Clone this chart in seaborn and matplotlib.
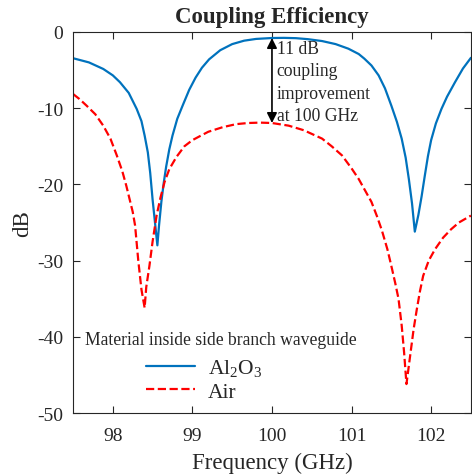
import numpy as np
import pandas as pd
import matplotlib
matplotlib.use('Agg')
import matplotlib.pyplot as plt
import seaborn as sns

# values (frequency in GHz, coupling in dB)
freq_al2o3 = [97.50, 97.70, 97.88, 98.00, 98.09, 98.20, 98.30, 98.36, 98.40, 98.44,
              98.47, 98.50, 98.53, 98.56, 98.58, 98.61, 98.64, 98.67, 98.71, 98.75,
              98.81, 98.88, 98.96, 99.04, 99.12, 99.21, 99.35, 99.50, 99.65, 99.80,
              100.00, 100.15, 100.30, 100.45, 100.63, 100.80, 100.96, 101.09, 101.16, 101.25,
              101.34, 101.42, 101.50, 101.57, 101.63, 101.68, 101.72, 101.76, 101.795, 101.84,
              101.88, 101.92, 101.96, 102.00, 102.06, 102.13, 102.20, 102.30, 102.40, 102.50]
db_al2o3 = [-3.45, -4.0, -4.86, -5.7, -6.6, -8.0, -10.1, -11.7, -13.6, -15.8,
            -18.5, -22.0, -25.0, -28.0, -25.5, -22.3, -19.8, -17.7, -15.4, -13.6,
            -11.4, -9.6, -7.6, -6.0, -4.7, -3.6, -2.4, -1.6, -1.15, -0.92,
            -0.8, -0.78, -0.82, -0.95, -1.2, -1.6, -2.2, -2.9, -3.5, -4.4,
            -5.7, -7.4, -9.67, -11.8, -14.0, -16.5, -19.3, -22.5, -26.2, -24.0,
            -21.6, -18.9, -16.3, -14.2, -12.0, -10.1, -8.5, -6.6, -4.8, -3.4]

freq_air = [97.50, 97.58, 97.67, 97.78, 97.88, 97.97, 98.05, 98.12, 98.17, 98.21,
            98.25, 98.28, 98.32, 98.36, 98.40, 98.42, 98.46, 98.50, 98.55, 98.60,
            98.65, 98.71, 98.80, 98.90, 99.00, 99.09, 99.20, 99.38, 99.55, 99.70,
            99.85, 100.00, 100.21, 100.40, 100.63, 100.75, 100.88, 101.00, 101.09, 101.17,
            101.25, 101.32, 101.38, 101.45, 101.50, 101.55, 101.59, 101.63, 101.66, 101.69,
            101.72, 101.75, 101.78, 101.82, 101.86, 101.90, 101.97, 102.05, 102.15, 102.25,
            102.35, 102.50]
db_air = [-8.14, -8.8, -9.67, -10.8, -12.3, -14.0, -16.2, -18.3, -20.2, -21.9,
          -23.6, -25.4, -30.0, -33.8, -36.2, -33.5, -30.7, -27.5, -24.1, -21.7,
          -19.7, -18.0, -16.4, -15.0, -14.2, -13.7, -13.1, -12.5, -12.1, -11.95,
          -11.9, -11.95, -12.3, -12.9, -14.0, -15.0, -16.2, -17.9, -19.3, -20.8,
          -22.3, -24.2, -26.0, -28.5, -30.7, -33.0, -35.0, -38.5, -42.0, -46.2,
          -43.8, -41.4, -39.0, -36.4, -34.0, -32.0, -30.0, -28.5, -27.0, -25.9,
          -25.0, -24.1]

labels = ['Al$_2$O$_3$', 'Air']
x_ticks = [98, 99, 100, 101, 102]
y_ticks = [0, -10, -20, -30, -40, -50]
note = '11 dB\ncoupling\nimprovement\nat 100 GHz'

df = pd.concat([
    pd.DataFrame({'freq': freq_al2o3, 'dB': db_al2o3, 'material': labels[0]}),
    pd.DataFrame({'freq': freq_air, 'dB': db_air, 'material': labels[1]}),
], ignore_index=True)

sns.set_style('ticks')
plt.rcParams['font.family'] = ['Liberation Serif', 'DejaVu Serif']
plt.rcParams['mathtext.fontset'] = 'custom'
plt.rcParams['mathtext.rm'] = 'Liberation Serif'
plt.rcParams['mathtext.default'] = 'regular'
plt.rcParams['axes.unicode_minus'] = False

fig = plt.figure(figsize=(4.72, 4.77), dpi=100)
ax = fig.add_axes([0.1547, 0.132, 0.843, 0.799])

sns.lineplot(data=df, x='freq', y='dB', hue='material', style='material',
             palette={labels[0]: '#0072BD', labels[1]: '#FF0000'},
             dashes={labels[0]: '', labels[1]: (3.7, 1.6)},
             estimator=None, sort=False, linewidth=1.6, ax=ax)

ax.set_xlim(97.5, 102.5)
ax.set_ylim(-50, 0)
ax.set_xticks(x_ticks)
ax.set_yticks(y_ticks)
ax.tick_params(direction='in', top=True, right=True, length=5, width=0.8,
               labelsize=14, colors='#262626')
ax.tick_params(axis='x', pad=10)
ax.tick_params(axis='y', pad=7)
for s in ax.spines.values():
    s.set_color('#262626')
    s.set_linewidth(0.8)

ax.set_xlabel('Frequency (GHz)', fontsize=16.5, color='#262626', labelpad=6)
ax.set_ylabel('dB', fontsize=16.5, color='#262626', labelpad=3)
ax.set_title('Coupling Efficiency', fontsize=16.5, fontweight='bold', pad=7)

# double arrow showing the gap at 100 GHz
ax.annotate('', xy=(100, -0.8), xytext=(100, -11.95),
            arrowprops=dict(arrowstyle='<|-|>,head_length=0.6,head_width=0.3',
                            color='black', lw=1.2, shrinkA=0, shrinkB=0))
ax.text(100.06, -1.1, note, ha='left', va='top', fontsize=12.7, linespacing=1.4)

# legend: title as separate text so the gap to the entries can match
ax.text(0.03, 0.194, 'Material inside side branch waveguide', transform=ax.transAxes,
        ha='left', va='center', fontsize=12.7)
handles, _ = ax.get_legend_handles_labels()
leg = ax.legend(handles, labels, loc='center left', bbox_to_anchor=(0.183, 0.088),
                frameon=False, fontsize=15.5, handlelength=2.28,
                handletextpad=0.6, labelspacing=0.14, borderpad=0, borderaxespad=0)

fig.savefig('out.png', dpi=100)
